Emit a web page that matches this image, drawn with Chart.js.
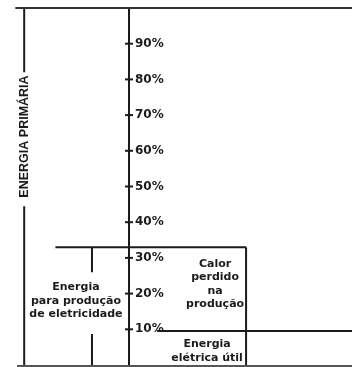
<!DOCTYPE html>
<html>
<head>
<meta charset="utf-8">
<script src="https://cdn.jsdelivr.net/npm/chart.js@4"></script>
<style>
  html, body { margin: 0; padding: 0; background: #fff; }
  #wrap { width: 352px; height: 367px; }
</style>
</head>
<body>
<div id="wrap"><canvas id="energyChart"></canvas></div>
<script>
// Percent scale of the diagram
const tickValues = [10, 20, 30, 40, 50, 60, 70, 80, 90];
const tickLabels = ['10%', '20%', '30%', '40%', '50%', '60%', '70%', '80%', '90%'];

// Energy levels, % of primary energy
const primaryEnergy = 100;
const electricityInput = 33;
const usefulElectricity = 9.5;

// Labels
const primaryLabel = 'ENERGIA PRIMÁRIA';
const inputLabel = ['Energia', 'para produção', 'de eletricidade'];
const lossLabel = ['Calor', 'perdido', 'na', 'produção'];
const usefulLabel = ['Energia', 'elétrica útil'];

// horizontal layout (x units: axis = 0, right edge = 100)
const X_LEFT = -51, X_BRACKET = -47, X_INPUT = -33, X_MARK = -16.6, X_BOX = 52.5, X_USEFUL = 12.6, X_RIGHT = 100;

const INK = '#1b1b1b';

function seg(points, color, width) {
    return {
        type: 'line',
        data: points,
        borderColor: color || INK,
        borderWidth: width || 2,
        pointRadius: 0,
        fill: false,
        tension: 0,
        clip: false
    };
}

const textBlocks = [
    { lines: inputLabel, x: -23.8, y: 17.2 },
    { lines: lossLabel, x: 38.6, y: 21.8 },
    { lines: usefulLabel, x: 35, y: 3.1 }
];

// Draw the text boxes and the rotated label
const diagramText = {
    id: 'diagramText',
    afterDatasetsDraw(chart) {
        const { ctx, scales: { x, y } } = chart;
        ctx.save();
        ctx.fillStyle = INK;
        ctx.font = 'bold 11px "DejaVu Sans"';
        ctx.textAlign = 'center';
        ctx.textBaseline = 'alphabetic';
        textBlocks.forEach(b => {
            const px = x.getPixelForValue(b.x);
            const py = y.getPixelForValue(b.y);
            const n = b.lines.length;
            b.lines.forEach((t, i) => ctx.fillText(t, px, py + (i - (n - 1) / 2) * 13.5));
        });
        ctx.translate(x.getPixelForValue(X_BRACKET), y.getPixelForValue(64));
        ctx.rotate(-Math.PI / 2);
        ctx.font = 'bold 12.5px "Liberation Sans"';
        ctx.textBaseline = 'middle';
        ctx.fillText(primaryLabel, 0, 0);
        ctx.restore();
    }
};

const ctx = document.getElementById('energyChart').getContext('2d');
new Chart(ctx, {
    type: 'line',
    data: {
        datasets: [
            seg([{ x: X_LEFT, y: primaryEnergy }, { x: X_RIGHT, y: primaryEnergy }], '#333'),
            seg([{ x: -50.2, y: -0.3 }, { x: X_RIGHT, y: -0.3 }], '#555'),
            // bracket of primary energy, broken for its label
            seg([{ x: X_BRACKET, y: primaryEnergy }, { x: X_BRACKET, y: 82 }]),
            seg([{ x: X_BRACKET, y: 44.5 }, { x: X_BRACKET, y: -0.5 }]),
            // energy used for electricity
            seg([{ x: X_INPUT, y: electricityInput }, { x: X_BOX, y: electricityInput }]),
            seg([{ x: X_BOX, y: electricityInput }, { x: X_BOX, y: -0.5 }]),
            seg([{ x: X_MARK, y: electricityInput }, { x: X_MARK, y: 26 }]),
            seg([{ x: X_MARK, y: 8.7 }, { x: X_MARK, y: -0.5 }]),
            // useful electric energy
            seg([{ x: X_USEFUL, y: usefulElectricity }, { x: X_RIGHT, y: usefulElectricity }]),
            {
                type: 'scatter',
                data: tickValues.map(v => ({ x: 0, y: v })),
                pointStyle: 'line',
                pointRadius: 4,
                borderColor: INK,
                borderWidth: 2,
                clip: false
            }
        ]
    },
    options: {
        responsive: true,
        maintainAspectRatio: false,
        animation: false,
        events: [],
        layout: { autoPadding: false, padding: { top: 8, bottom: 2, left: 0, right: 0 } },
        plugins: {
            legend: { display: false },
            tooltip: { enabled: false }
        },
        scales: {
            x: {
                type: 'linear',
                display: false,
                min: 0,
                max: 100
            },
            y: {
                type: 'linear',
                position: 'left',
                min: 0,
                max: 100,
                afterFit: (scale) => {
                    scale.width = 129;
                    scale.paddingTop = 0;
                    scale.paddingBottom = 0;
                },
                ticks: {
                    stepSize: 10,
                    mirror: true,
                    padding: 6,
                    color: INK,
                    font: { family: "'DejaVu Sans'", weight: 'bold', size: 12 },
                    callback: (v) => {
                        const i = tickValues.indexOf(v);
                        return i >= 0 ? tickLabels[i] : '';
                    }
                },
                grid: { drawOnChartArea: false, drawTicks: false },
                border: { display: true, color: INK, width: 2 }
            }
        }
    },
    plugins: [diagramText]
});
</script>
</body>
</html>
